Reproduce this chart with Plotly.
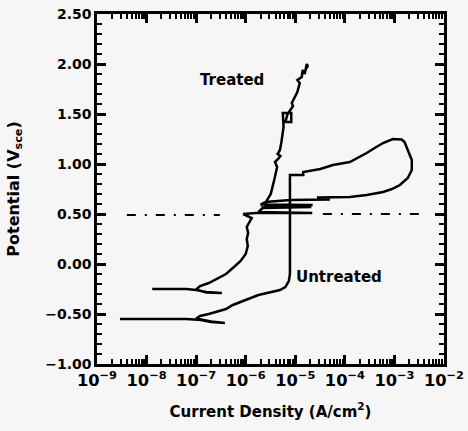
import plotly.graph_objects as go

# Treated specimen: current density (A/cm^2) and potential (V vs SCE)
treated_i = [1.3e-8, 6.3e-8, 1.0e-7, 1.6e-7, 3.3e-7, 1.6e-7, 1.0e-7, 1.2e-7, 1.8e-7, 2.6e-7,
             4.0e-7, 5.5e-7, 7.9e-7, 1.0e-6, 1.1e-6, 1.05e-6, 1.12e-6, 1.05e-6, 1.2e-6, 1.32e-6,
             8.9e-7, 1.6e-6, 2.2e-5, 1.8e-6, 2.2e-6, 2.1e-5, 2.5e-6, 2.7e-6, 3.2e-6, 3.5e-6,
             3.8e-6, 4.3e-6, 3.9e-6, 4.5e-6, 5.0e-6, 4.4e-6, 4.9e-6, 5.25e-6, 5.6e-6, 5.8e-6,
             5.6e-6, 8.3e-6, 8.3e-6, 6.3e-6, 7.0e-6, 7.8e-6, 9.0e-6, 8.5e-6, 9.8e-6, 1.1e-5,
             1.23e-5, 1.1e-5, 1.35e-5, 1.41e-5, 1.55e-5, 1.7e-5, 1.78e-5, 1.65e-5]
treated_e = [-0.25, -0.25, -0.26, -0.28, -0.29, -0.285, -0.255, -0.22, -0.19, -0.15,
             -0.10, -0.04, 0.03, 0.10, 0.18, 0.25, 0.31, 0.37, 0.42, 0.46,
             0.50, 0.51, 0.51, 0.52, 0.56, 0.57, 0.58, 0.64, 0.70, 0.77,
             0.85, 0.97, 1.02, 1.05, 1.08, 1.10, 1.14, 1.22, 1.31, 1.37,
             1.51, 1.51, 1.42, 1.42, 1.50, 1.54, 1.58, 1.61, 1.67, 1.72,
             1.81, 1.84, 1.87, 1.94, 1.90, 2.00, 1.98, 1.95]

# Untreated specimen
untreated_i = [2.9e-9, 6.3e-8, 1.26e-7, 2.0e-7, 3.8e-7, 2.0e-7, 1.0e-7, 1.2e-7, 1.8e-7, 2.6e-7,
               4.0e-7, 5.5e-7, 7.9e-7, 1.2e-6, 1.8e-6, 2.7e-6, 4.0e-6, 4.9e-6, 6.3e-6, 7.4e-6,
               7.8e-6, 7.8e-6, 1.45e-5, 1.45e-5, 3.2e-5, 5.75e-5, 1.26e-4, 2.0e-4, 2.75e-4, 4.0e-4,
               5.9e-4, 9.3e-4, 1.4e-3, 1.6e-3, 1.86e-3, 2.24e-3, 2.24e-3, 1.86e-3, 1.29e-3, 8.9e-4,
               5.9e-4, 2.75e-4, 1.26e-4, 6.3e-5, 2.9e-5, 2.9e-5, 5.0e-5, 2.75e-5, 7.9e-6, 2.5e-6,
               2.0e-6, 2.24e-5, 2.0e-6]
untreated_e = [-0.55, -0.55, -0.56, -0.58, -0.59, -0.575, -0.545, -0.52, -0.50, -0.48,
               -0.45, -0.41, -0.38, -0.34, -0.31, -0.29, -0.27, -0.26, -0.23, -0.17,
               -0.10, 0.89, 0.89, 0.92, 0.95, 0.99, 1.02, 1.07, 1.11, 1.16,
               1.21, 1.25, 1.245, 1.22, 1.14, 1.04, 0.94, 0.86, 0.79, 0.75,
               0.72, 0.69, 0.67, 0.665, 0.665, 0.645, 0.645, 0.645, 0.64, 0.62,
               0.595, 0.59, 0.585]

# Noise (dash) line near 0.49 V
noise_i = [4.0e-9, 3.0e-7, None, 3.6e-5, 3.2e-3]
noise_e = [0.49, 0.49, None, 0.50, 0.50]

font = "DejaVu Sans"
clear = "rgba(0,0,0,0)"

fig = go.Figure()
fig.add_trace(go.Scatter(x=noise_i, y=noise_e, mode="lines",
                         line=dict(color="black", width=1.8, dash="9px,9px,2px,9px")))
fig.add_trace(go.Scatter(x=treated_i, y=treated_e, mode="lines",
                         line=dict(color="black", width=2.5)))
fig.add_trace(go.Scatter(x=untreated_i, y=untreated_e, mode="lines",
                         line=dict(color="black", width=2.5)))

fig.add_annotation(x=-6.28, y=1.84, xref="x", yref="y", text="<b>Treated</b>",
                   showarrow=False, font=dict(family=font, size=15, color="black"))
fig.add_annotation(x=-5.02, y=-0.13, xref="x", yref="y", text="<b>Untreated</b>",
                   showarrow=False, xanchor="left", font=dict(family=font, size=15, color="black"))

fig.update_layout(
    template="none",
    width=468, height=431,
    margin=dict(l=97, r=24, t=14, b=67),
    paper_bgcolor="#f6f6f6", plot_bgcolor=clear,
    showlegend=False,
    font=dict(family=font, color="black"),
    xaxis=dict(type="log", range=[-9, -2], dtick=1,
               exponentformat="power", showexponent="all",
               ticks="inside", ticklen=9, tickwidth=2.5, tickcolor="black",
               showline=True, linecolor="black", linewidth=2.5, mirror="allticks",
               gridcolor=clear, zerolinecolor=clear,
               tickfont=dict(family=font, size=13, color="black", weight="bold"),
               minor=dict(ticks="inside", ticklen=5, tickwidth=1.5, tickcolor="black"),
               title=dict(text="<b>Current Density (A/cm<sup>2</sup>)</b>",
                          font=dict(family=font, size=15, color="black"), standoff=18)),
    yaxis=dict(range=[-1.0, 2.5], tick0=-1.0, dtick=0.5, tickformat=".2f",
               ticks="inside", ticklen=9, tickwidth=2.5, tickcolor="black",
               showline=True, linecolor="black", linewidth=2.5, mirror="allticks",
               gridcolor=clear, zerolinecolor=clear,
               tickfont=dict(family=font, size=14, color="black", weight="bold"),
               minor=dict(ticks="inside", ticklen=5, tickwidth=1.5, tickcolor="black", dtick=0.1),
               title=dict(text="<b>Potential (V<sub>sce</sub>)</b>",
                          font=dict(family=font, size=16, color="black"), standoff=22)),
)

fig.write_html("out.html", config={"displayModeBar": False},
               post_script="document.body.style.margin='0';document.body.style.background='#f6f6f6';")
